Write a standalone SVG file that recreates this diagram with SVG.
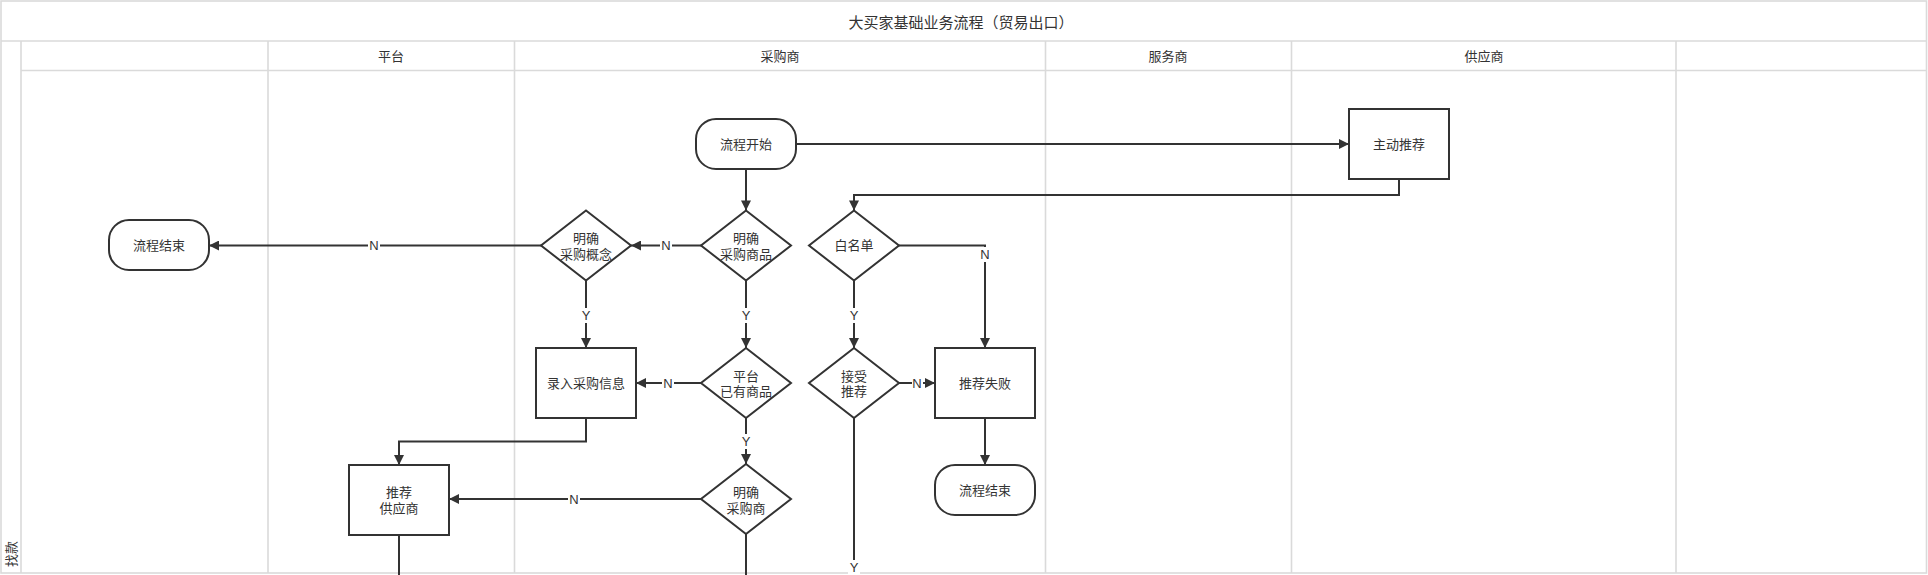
<svg xmlns="http://www.w3.org/2000/svg" width="1928" height="575" viewBox="0 0 1928 575">
<style>
.lane{fill:none;stroke:#dadada;stroke-width:1.6}
.title{font-family:"Liberation Sans","Noto Sans CJK SC",sans-serif;font-size:15px;fill:#333;text-anchor:middle;dominant-baseline:central}
.hdr{font-family:"Liberation Sans","Noto Sans CJK SC",sans-serif;font-size:13px;fill:#333;text-anchor:middle;dominant-baseline:central}
.shape{fill:#fff;stroke:#333;stroke-width:2}
.t{font-family:"Liberation Sans","Noto Sans CJK SC",sans-serif;font-size:13px;fill:#333;text-anchor:middle;dominant-baseline:central}
.edge{fill:none;stroke:#333;stroke-width:2}
.lbl{font-family:"Liberation Sans","Noto Sans CJK SC",sans-serif;font-size:13px;fill:#333;text-anchor:middle;dominant-baseline:central}
.lblbg{fill:#fff}
</style>
<defs>
<marker id="arr" viewBox="0 0 10 10" refX="10" refY="5" markerWidth="11" markerHeight="10" markerUnits="userSpaceOnUse" orient="auto">
<path d="M0,0 L10,5 L0,10 z" fill="#333"/>
</marker>
</defs>
<rect width="1928" height="575" fill="#fff"/>
<g id="pool">
<rect class="lane" x="1" y="1" width="1925.5" height="572"/>
<line class="lane" x1="1" y1="41" x2="1926.5" y2="41"/>
<line class="lane" x1="21" y1="70.5" x2="1926.5" y2="70.5"/>
<line class="lane" x1="21" y1="41" x2="21" y2="573"/>
<line class="lane" x1="268" y1="41" x2="268" y2="573"/>
<line class="lane" x1="514.5" y1="41" x2="514.5" y2="573"/>
<line class="lane" x1="1045.5" y1="41" x2="1045.5" y2="573"/>
<line class="lane" x1="1291.5" y1="41" x2="1291.5" y2="573"/>
<line class="lane" x1="1676" y1="41" x2="1676" y2="573"/>
<text class="title" x="961" y="22">大买家基础业务流程（贸易出口）</text>
<text class="hdr" x="391" y="56">平台</text>
<text class="hdr" x="780" y="56">采购商</text>
<text class="hdr" x="1168" y="56">服务商</text>
<text class="hdr" x="1484" y="56">供应商</text>
<text class="hdr" transform="translate(11.5,554) rotate(-90)" x="0" y="0">找款</text>
</g>
<g id="connectors">
<path class="edge" d="M746,169 L746,210.5" marker-end="url(#arr)"/>
<path class="edge" d="M796,144 L1349,144" marker-end="url(#arr)"/>
<path class="edge" d="M1399,179 L1399,195 L854,195 L854,210.5" marker-end="url(#arr)"/>
<path class="edge" d="M701,245.5 L631,245.5" marker-end="url(#arr)"/>
<path class="edge" d="M541,245.5 L209,245.5" marker-end="url(#arr)"/>
<path class="edge" d="M586,280.5 L586,348" marker-end="url(#arr)"/>
<path class="edge" d="M746,280.5 L746,348" marker-end="url(#arr)"/>
<path class="edge" d="M854,280.5 L854,348" marker-end="url(#arr)"/>
<path class="edge" d="M899,245.5 L985,245.5 L985,348" marker-end="url(#arr)"/>
<path class="edge" d="M701,383 L636,383" marker-end="url(#arr)"/>
<path class="edge" d="M899,383 L935,383" marker-end="url(#arr)"/>
<path class="edge" d="M746,418 L746,464" marker-end="url(#arr)"/>
<path class="edge" d="M586,418 L586,441.5 L399,441.5 L399,465" marker-end="url(#arr)"/>
<path class="edge" d="M701,499 L449,499" marker-end="url(#arr)"/>
<path class="edge" d="M985,418 L985,465" marker-end="url(#arr)"/>
<path class="edge" d="M399,535 L399,590"/>
<path class="edge" d="M746,534 L746,590"/>
<path class="edge" d="M854,418 L854,590"/>
<rect class="lblbg" x="368" y="238" width="12" height="15"/><text class="lbl" x="374" y="245.5">N</text>
<rect class="lblbg" x="660" y="238" width="12" height="15"/><text class="lbl" x="666" y="245.5">N</text>
<rect class="lblbg" x="979" y="247" width="12" height="15"/><text class="lbl" x="985" y="254.5">N</text>
<rect class="lblbg" x="580" y="308" width="12" height="15"/><text class="lbl" x="586" y="315">Y</text>
<rect class="lblbg" x="740" y="308" width="12" height="15"/><text class="lbl" x="746" y="315">Y</text>
<rect class="lblbg" x="848" y="308" width="12" height="15"/><text class="lbl" x="854" y="315">Y</text>
<rect class="lblbg" x="662" y="376" width="12" height="15"/><text class="lbl" x="668" y="383">N</text>
<rect class="lblbg" x="912" y="376" width="11" height="15"/><text class="lbl" x="917" y="383">N</text>
<rect class="lblbg" x="740" y="434" width="12" height="15"/><text class="lbl" x="746" y="441">Y</text>
<rect class="lblbg" x="568" y="492" width="12" height="15"/><text class="lbl" x="574" y="499">N</text>
<rect class="lblbg" x="848" y="560" width="12" height="15"/><text class="lbl" x="854" y="567">Y</text>
</g>
<g id="n_start">
<rect class="shape" x="696" y="119" width="100" height="50" rx="20" ry="20"/>
<text class="t" x="746" y="144">流程开始</text>
</g>
<g id="n_push">
<rect class="shape" x="1349" y="109" width="100" height="70"/>
<text class="t" x="1399" y="144">主动推荐</text>
</g>
<g id="n_end_left">
<rect class="shape" x="109" y="220" width="100" height="50" rx="20" ry="20"/>
<text class="t" x="159" y="245">流程结束</text>
</g>
<g id="n_concept">
<polygon class="shape" points="586,210.5 631,245.5 586,280.5 541,245.5"/>
<text class="t" x="586" y="238.5">明确</text>
<text class="t" x="586" y="254">采购概念</text>
</g>
<g id="n_goods">
<polygon class="shape" points="746,210.5 791,245.5 746,280.5 701,245.5"/>
<text class="t" x="746" y="238.5">明确</text>
<text class="t" x="746" y="254">采购商品</text>
</g>
<g id="n_whitelist">
<polygon class="shape" points="854,210.5 899,245.5 854,280.5 809,245.5"/>
<text class="t" x="854" y="245.5">白名单</text>
</g>
<g id="n_input">
<rect class="shape" x="536" y="348" width="100" height="70"/>
<text class="t" x="586" y="383">录入采购信息</text>
</g>
<g id="n_platform">
<polygon class="shape" points="746,348 791,383 746,418 701,383"/>
<text class="t" x="746" y="376">平台</text>
<text class="t" x="746" y="391.5">已有商品</text>
</g>
<g id="n_accept">
<polygon class="shape" points="854,348 899,383 854,418 809,383"/>
<text class="t" x="854" y="376">接受</text>
<text class="t" x="854" y="391.5">推荐</text>
</g>
<g id="n_fail">
<rect class="shape" x="935" y="348" width="100" height="70"/>
<text class="t" x="985" y="383">推荐失败</text>
</g>
<g id="n_supplier">
<rect class="shape" x="349" y="465" width="100" height="70"/>
<text class="t" x="399" y="492.5">推荐</text>
<text class="t" x="399" y="508.5">供应商</text>
</g>
<g id="n_buyer">
<polygon class="shape" points="746,464 791,499 746,534 701,499"/>
<text class="t" x="746" y="492.5">明确</text>
<text class="t" x="746" y="508">采购商</text>
</g>
<g id="n_end_right">
<rect class="shape" x="935" y="465" width="100" height="50" rx="20" ry="20"/>
<text class="t" x="985" y="490">流程结束</text>
</g>
</svg>
